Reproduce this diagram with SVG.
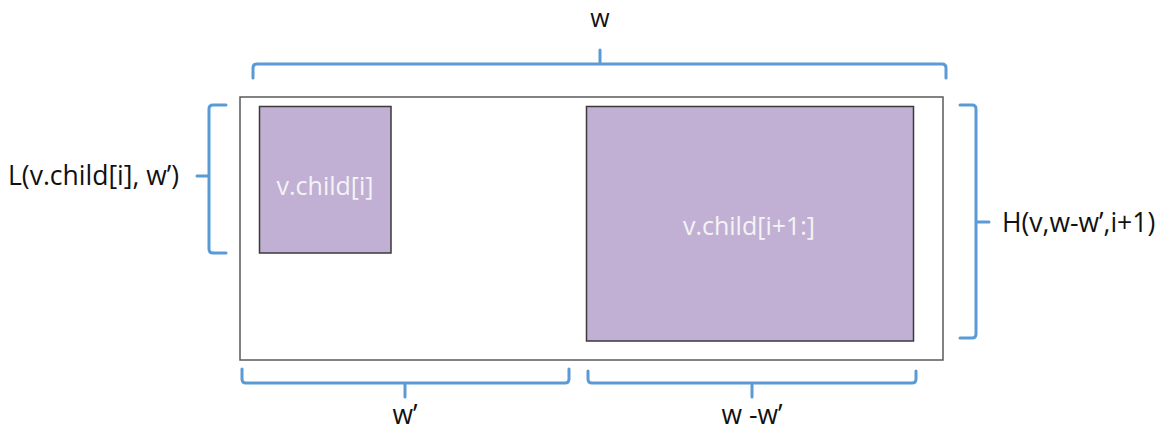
<svg xmlns="http://www.w3.org/2000/svg" width="1162" height="433" viewBox="0 0 1162 433">
  <style>
    .frame { fill: #ffffff; stroke: #5a5a5a; stroke-width: 1.5; }
    .block { fill: #c1b0d4; stroke: #3a3a3a; stroke-width: 1.5; }
    .brace { fill: none; stroke: #5b9bd5; stroke-width: 3; stroke-linecap: round; stroke-linejoin: round; }
    .label { font-family: "Open Sans", "Liberation Sans", sans-serif; font-size: 26.5px; fill: #111111; }
    .inner { font-family: "Open Sans", "Liberation Sans", sans-serif; font-size: 25px; fill: #f4f4f4; }
  </style>
  <rect width="1162" height="433" fill="#ffffff"/>

  <!-- container -->
  <g id="container">
    <rect class="frame" x="240" y="97" width="703" height="263"/>
  </g>

  <!-- first child block -->
  <g id="child-i">
    <rect class="block" x="259.5" y="106.5" width="131.5" height="146.5"/>
    <text class="inner" x="325" y="195" text-anchor="middle">v.child[i]</text>
  </g>

  <!-- remaining children block -->
  <g id="child-rest">
    <rect class="block" x="586.5" y="106.5" width="327" height="234.5"/>
    <text class="inner" x="749" y="235" text-anchor="middle">v.child[i+1:]</text>
  </g>

  <!-- dimension braces -->
  <g id="braces">
    <!-- total width -->
    <path class="brace" d="M253,78 V68 Q253,64 257,64 H942 Q946,64 946,68 V78 M600,64 V50"/>
    <!-- height of first child -->
    <path class="brace" d="M226,105 H213 Q209,105 209,109 V249 Q209,253 213,253 H226 M209,176 H197"/>
    <!-- height of remaining children -->
    <path class="brace" d="M960,105 H972 Q976,105 976,109 V334 Q976,338 972,338 H960 M976,222 H989"/>
    <!-- width of first child -->
    <path class="brace" d="M242,369 V379 Q242,383 246,383 H565 Q569,383 569,379 V369 M405,383 V397"/>
    <!-- width of remaining children -->
    <path class="brace" d="M588,371 V379 Q588,383 592,383 H912 Q916,383 916,379 V371 M752,383 V397"/>
  </g>

  <!-- dimension labels -->
  <g id="labels">
    <text class="label" x="600" y="27" text-anchor="middle" style="font-size:25px">w</text>
    <text class="label" x="8" y="185">L(v.child[i], w’)</text>
    <text class="label" x="1002" y="232">H(v,w-w’,i+1)</text>
    <text class="label" x="405" y="424" text-anchor="middle">w’</text>
    <text class="label" x="752" y="424" text-anchor="middle">w -w’</text>
  </g>
</svg>
